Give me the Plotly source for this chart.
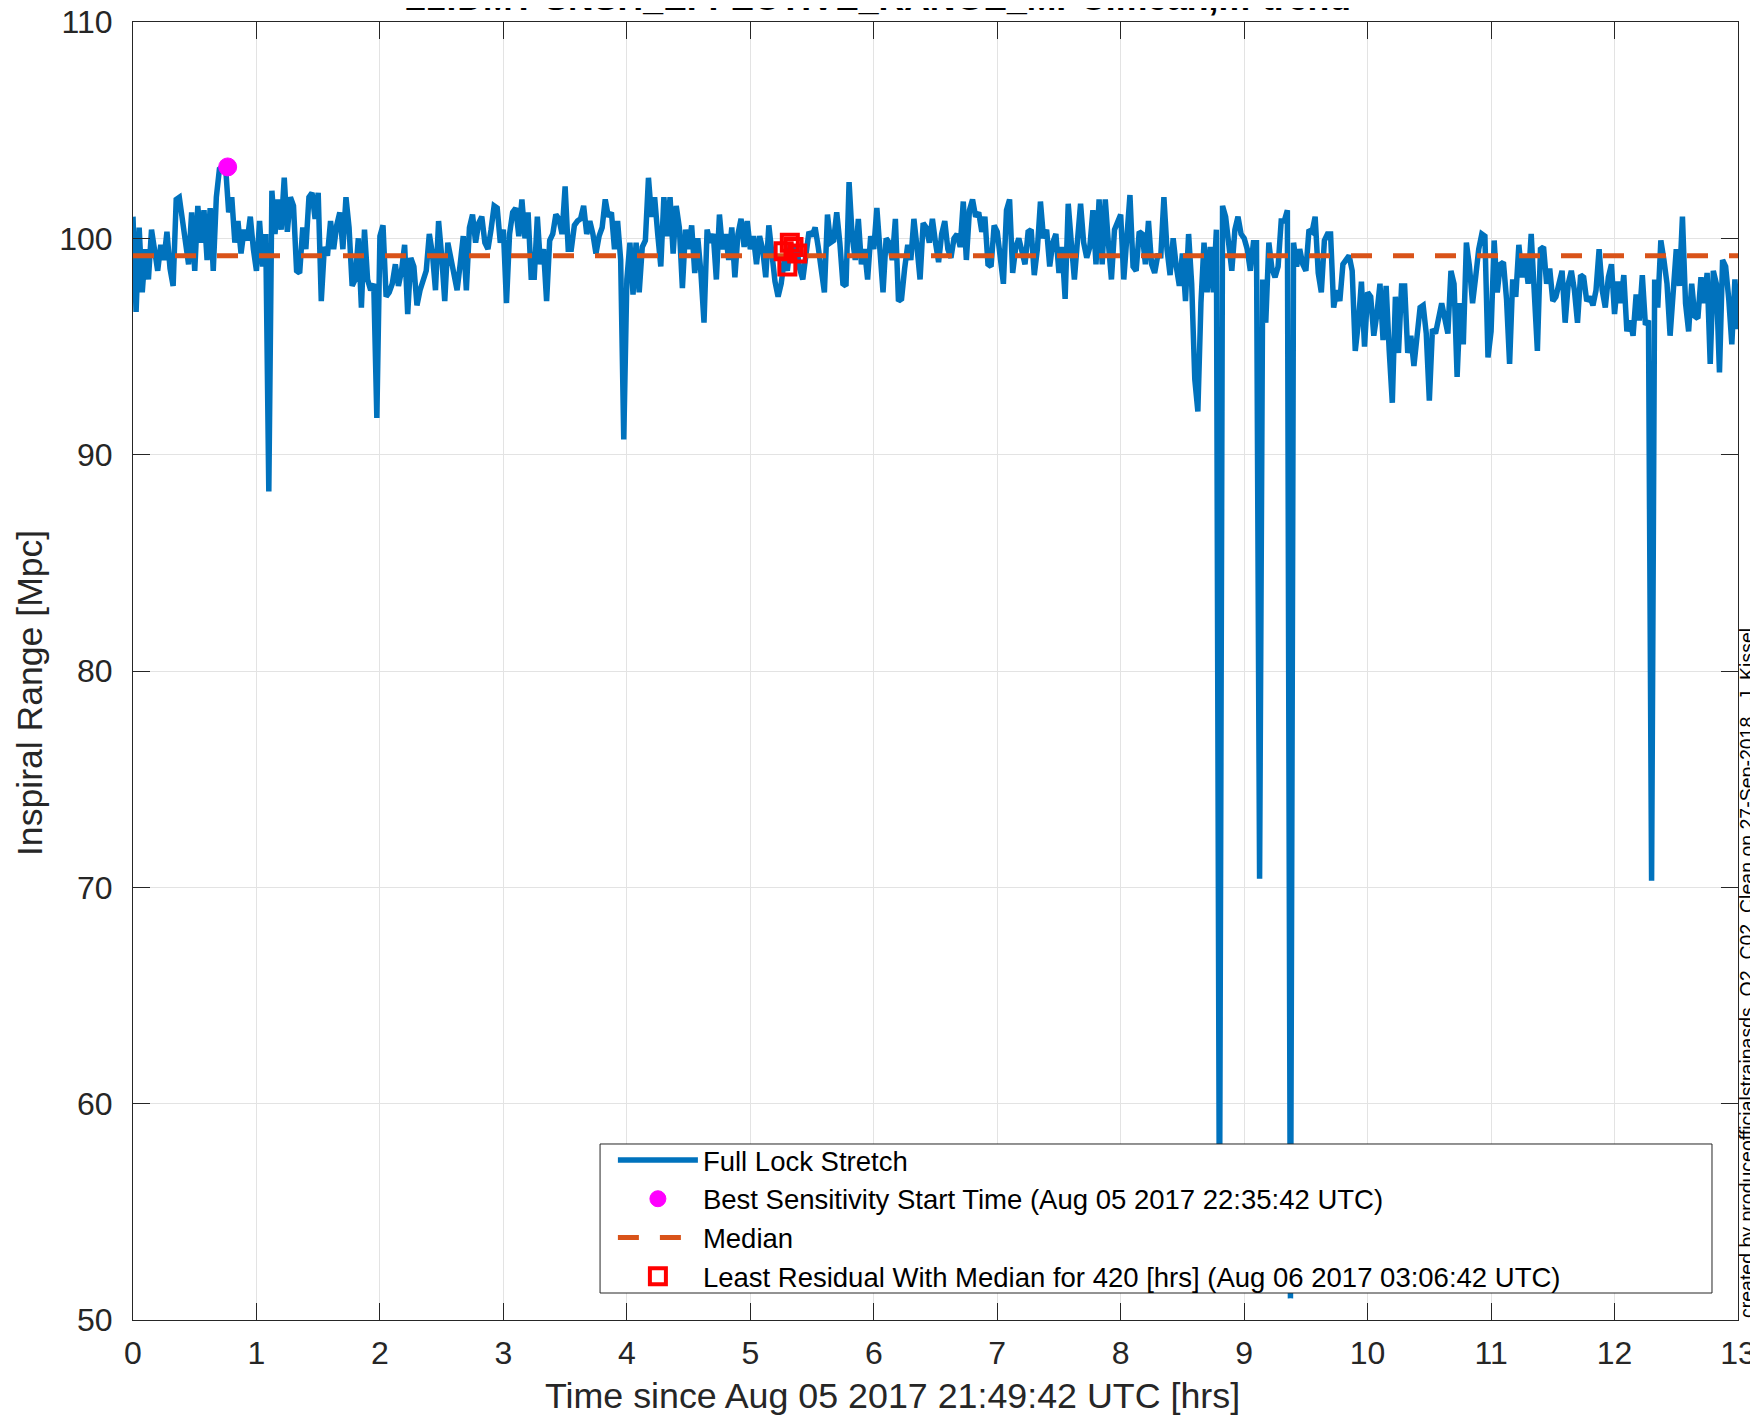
import numpy as np
import plotly.graph_objects as go

# ---------------- data ----------------
TIME_STEP_HRS = 0.025  # 1.5-minute sampling of the minute trend

range_mpc = [
    101.0, 96.6, 100.5, 97.5, 99.5, 98.1, 100.4, 99.6, 98.5, 99.7,
    99.0, 100.3, 98.6, 97.8, 101.8, 101.9, 100.9, 100.2, 98.8, 101.2,
    98.5, 101.5, 99.8, 101.3, 99.0, 101.4, 98.5, 101.9, 103.2, 103.3,
    103.3, 101.2, 101.9, 99.8, 100.8, 99.3, 100.4, 99.9, 101.0, 99.5,
    98.5, 100.8, 98.7, 100.2, 88.3, 102.2, 100.2, 101.8, 100.4, 102.8,
    100.3, 101.9, 101.5, 98.5, 98.4, 100.5, 99.5, 101.9, 102.1, 100.9,
    102.1, 97.1, 99.6, 99.2, 100.8, 99.5, 100.6, 101.2, 99.5, 101.9,
    100.5, 97.8, 98.1, 100.0, 96.8, 100.4, 98.1, 97.6, 97.9, 91.7,
    100.1, 100.6, 97.3, 97.5, 97.9, 98.8, 97.8, 98.5, 99.7, 96.5,
    99.1, 98.7, 96.9, 97.6, 98.0, 98.5, 100.2, 99.3, 97.6, 100.8,
    99.2, 97.1, 99.8, 99.0, 98.5, 97.6, 98.8, 100.1, 97.6, 100.5,
    101.1, 99.8, 100.7, 101.0, 99.8, 99.5, 100.4, 101.5, 101.4, 99.8,
    100.4, 97.0, 100.2, 101.2, 101.4, 100.1, 101.8, 100.0, 101.2, 98.2,
    98.2,
    # 3.25 h ->
    101.0, 98.8, 99.5, 97.1, 99.9, 100.2, 101.1, 100.9, 100.2,
    102.4, 99.5, 99.5, 100.6, 100.8, 100.9, 101.5, 100.2, 100.8, 100.2,
    99.3, 100.1, 100.5, 101.8, 101.0, 101.2, 99.5, 100.8, 99.0, 90.7,
    98.1, 99.8, 97.4, 99.8, 97.5, 99.6, 99.9, 102.8, 101.0, 101.9,
    100.2, 98.7, 101.9, 100.1, 101.9, 99.3, 101.5, 100.5, 97.7, 100.4,
    99.5, 100.6, 98.4, 100.0, 98.4, 96.1, 100.4, 99.8, 100.2, 98.1,
    101.1, 99.5, 100.2, 99.0, 100.5, 98.2, 100.2, 100.9, 99.6, 100.8,
    99.5, 100.1, 98.8, 100.1, 99.5, 98.2, 100.6, 99.2, 98.0, 97.3,
    97.9, 99.0, 98.5, 99.8, 99.0, 99.6, 98.6, 98.1, 99.5, 100.3,
    100.1, 100.5, 99.6, 98.4, 97.5, 101.1, 99.8, 99.9, 101.2, 99.8,
    97.9, 97.8, 102.6, 100.1, 99.0, 100.9, 98.8, 99.5, 98.1, 100.1,
    99.5, 101.4, 99.5, 97.5, 100.0, 99.8, 99.0, 100.9, 97.1, 97.2,
    98.6, 99.7, 99.0, 100.9, 99.6, 98.1, 100.7, 100.5, 99.8, 100.9,
    99.8, 98.9, 100.2,
    # 6.575 h ->
    100.8, 99.5, 99.1, 100.0, 100.2, 99.6, 101.7,
    99.0, 101.3, 101.8, 101.0, 101.2, 100.3, 101.0, 98.8, 98.7, 100.6,
    100.3, 98.9, 97.9, 101.3, 101.8, 98.4, 99.6, 100.0, 99.5, 98.8,
    100.3, 100.4, 98.3, 99.5, 101.7, 100.0, 100.4, 98.7, 99.8, 100.2,
    98.4, 99.6, 97.2, 101.6, 99.8, 98.1, 99.9, 101.6, 99.8, 99.1,
    99.6, 101.3, 98.8, 101.8, 98.8, 101.8, 99.8, 98.1, 100.4, 100.7,
    101.1, 98.1, 100.1, 102.0, 98.7, 98.5, 100.3, 100.2, 98.8, 100.8,
    98.8, 98.4, 99.2, 99.2, 101.9, 99.5, 98.3, 100.0, 98.7, 97.8,
    99.3, 97.1, 100.2, 97.9, 93.5, 92.0, 97.0, 99.8, 97.5, 99.6,
    97.5, 100.4, 53.0, 101.5, 101.0, 99.8, 98.5, 100.4, 101.0, 100.2,
    100.0, 99.5, 98.5, 99.8, 99.8, 70.4, 98.1, 96.1, 99.8, 98.6,
    98.2, 98.7, 100.8, 100.8, 101.3, 51.0, 99.8, 98.7, 99.5, 98.8,
    98.5, 100.4, 100.3, 101.0, 98.4, 97.5, 99.9, 100.2, 100.2, 96.8,
    97.6, 97.1, 98.8,
    # 9.825 h ->
    99.0, 99.2, 98.5, 94.8, 96.1, 98.0, 95.0,
    97.5, 97.3, 95.5, 96.5, 97.9, 95.3, 97.8, 94.8, 92.4, 97.3,
    94.7, 97.8, 97.8, 94.7, 95.5, 94.1, 95.5, 96.8, 96.9, 95.6,
    92.5, 95.8, 95.6, 96.3, 97.0, 96.3, 95.6, 98.5, 97.9, 93.6,
    97.0, 95.1, 99.8, 98.7, 97.0, 98.2, 99.5, 100.2, 100.1, 94.5,
    95.7, 99.9, 97.5, 98.8, 98.9, 97.2, 94.2, 98.1, 97.3, 99.7,
    98.2, 99.1, 97.9, 100.2, 96.8, 94.8, 99.5, 99.6, 97.9, 98.6,
    97.1, 97.3, 97.9, 98.5, 96.1, 97.9, 98.5, 97.6, 96.1, 98.3,
    98.2, 97.1, 97.3, 96.9, 97.6, 99.5, 97.6, 96.8, 98.2, 98.8,
    96.5, 98.0, 97.0, 98.3, 95.7, 96.2, 95.5, 97.4, 96.2, 98.3,
    96.0, 96.2, 70.3, 98.1, 96.8, 99.9, 99.0, 97.9, 95.5, 97.6,
    99.5, 97.8, 101.0, 97.0, 95.7, 97.9, 96.4, 96.3, 98.2, 97.0,
    98.4, 94.2, 98.5, 97.9, 93.8, 99.0, 98.7, 97.2, 95.1, 98.1,
    95.8,
]

median_mpc = 99.2

best_start_hrs = [0.7667]       # Aug 05 2017 22:35:42 UTC
best_start_mpc = [103.3]

least_resid_hrs = [5.27, 5.30, 5.32, 5.35, 5.38]   # around Aug 06 2017 03:06:42 UTC
least_resid_mpc = [99.4, 98.7, 99.8, 99.6, 99.3]

x_ticks = list(range(0, 14))
y_ticks = [50, 60, 70, 80, 90, 100, 110]

title_text = "L1:DMT-SNSH_EFFECTIVE_RANGE_MPC.mean,m-trend"
xlabel = "Time since Aug 05 2017 21:49:42 UTC [hrs]"
ylabel = "Inspiral Range [Mpc]"
side_note = ("created by produceofficialstrainasds\u00a0\u00a0O2\u00a0\u00a0C02\u00a0\u00a0"
             "Clean on 27-Sep-2018 , J. Kissel")

legend_names = [
    "Full Lock Stretch",
    "Best Sensitivity Start Time (Aug 05 2017 22:35:42 UTC)",
    "Median",
    "Least Residual With Median for 420 [hrs] (Aug 06 2017 03:06:42 UTC)",
]

# ---------------- figure ----------------
t_hrs = np.arange(len(range_mpc)) * TIME_STEP_HRS

BLUE = "#0072BD"
ORANGE = "#D95319"
AXC = "#262626"
FONT = "Liberation Sans, Arial, sans-serif"

fig = go.Figure()

fig.add_trace(go.Scatter(
    x=t_hrs, y=range_mpc, mode="lines", name=legend_names[0],
    line=dict(color=BLUE, width=5.5)))

fig.add_trace(go.Scatter(
    x=best_start_hrs, y=best_start_mpc, mode="markers", name=legend_names[1],
    marker=dict(color="#FF00FF", size=18, symbol="circle",
                line=dict(color="#FF00FF", width=1))))

fig.add_trace(go.Scatter(
    x=[0, 13], y=[median_mpc, median_mpc], mode="lines", name=legend_names[2],
    line=dict(color=ORANGE, width=5, dash="21px,21px")))

fig.add_trace(go.Scatter(
    x=least_resid_hrs, y=least_resid_mpc, mode="markers", name=legend_names[3],
    marker=dict(color="#FF0000", size=16, symbol="square-open",
                line=dict(color="#FF0000", width=4))))

axis_common = dict(
    showline=True, linecolor=AXC, linewidth=1, mirror="allticks",
    ticks="inside", ticklen=17, tickwidth=1, tickcolor=AXC,
    showgrid=True, gridcolor="#e3e3e3", gridwidth=1, zeroline=False,
    tickfont=dict(family=FONT, size=32, color=AXC),
    ticklabeloverflow="allow",
)

fig.update_xaxes(range=[0, 13], tickvals=x_ticks, ticklabelstandoff=5, **axis_common)
fig.update_yaxes(range=[50, 110], tickvals=y_ticks, ticklabelstandoff=13, **axis_common)

# the page body adds an 8px offset, so the figure is 16px smaller than the window
fig.update_layout(
    width=1750, height=1407,
    margin=dict(l=125, r=20, t=14, b=95, autoexpand=False),
    paper_bgcolor="white", plot_bgcolor="white",
    font=dict(family=FONT, color="black"),
    showlegend=True,
    legend=dict(
        x=0.299, y=0.0785, xanchor="left", yanchor="middle",
        bgcolor="rgba(0,0,0,0)", borderwidth=0,
        font=dict(family=FONT, size=27.5, color="black"),
        itemwidth=80, tracegroupgap=0,
    ),
    shapes=[
        # legend frame (white box, drawn under the legend entries)
        dict(type="rect", xref="paper", yref="paper",
             x0=0.291, x1=0.9838, y0=0.0208, y1=0.1356,
             fillcolor="white", line=dict(color=AXC, width=1), layer="above"),
    ],
    annotations=[
        dict(text="<b>" + title_text + "</b>", xref="paper", yref="paper",
             x=0.4636, y=1.0015, xanchor="center", yanchor="bottom", showarrow=False,
             font=dict(family=FONT, size=35.6, color="black")),
        dict(text=xlabel, xref="paper", yref="paper", x=0.4732, y=-0.0586,
             xanchor="center", yanchor="middle", showarrow=False,
             font=dict(family=FONT, size=35.8, color=AXC)),
        dict(text=ylabel, xref="paper", yref="paper", x=-0.0642, y=0.483,
             xanchor="center", yanchor="middle", textangle=-90, showarrow=False,
             font=dict(family=FONT, size=35.6, color=AXC)),
        dict(text=side_note, xref="paper", yref="paper", x=1.0056, y=0,
             xanchor="center", yanchor="bottom", textangle=-90, showarrow=False,
             font=dict(family=FONT, size=19.5, color="black")),
    ],
)

fig.write_html("out.html")
